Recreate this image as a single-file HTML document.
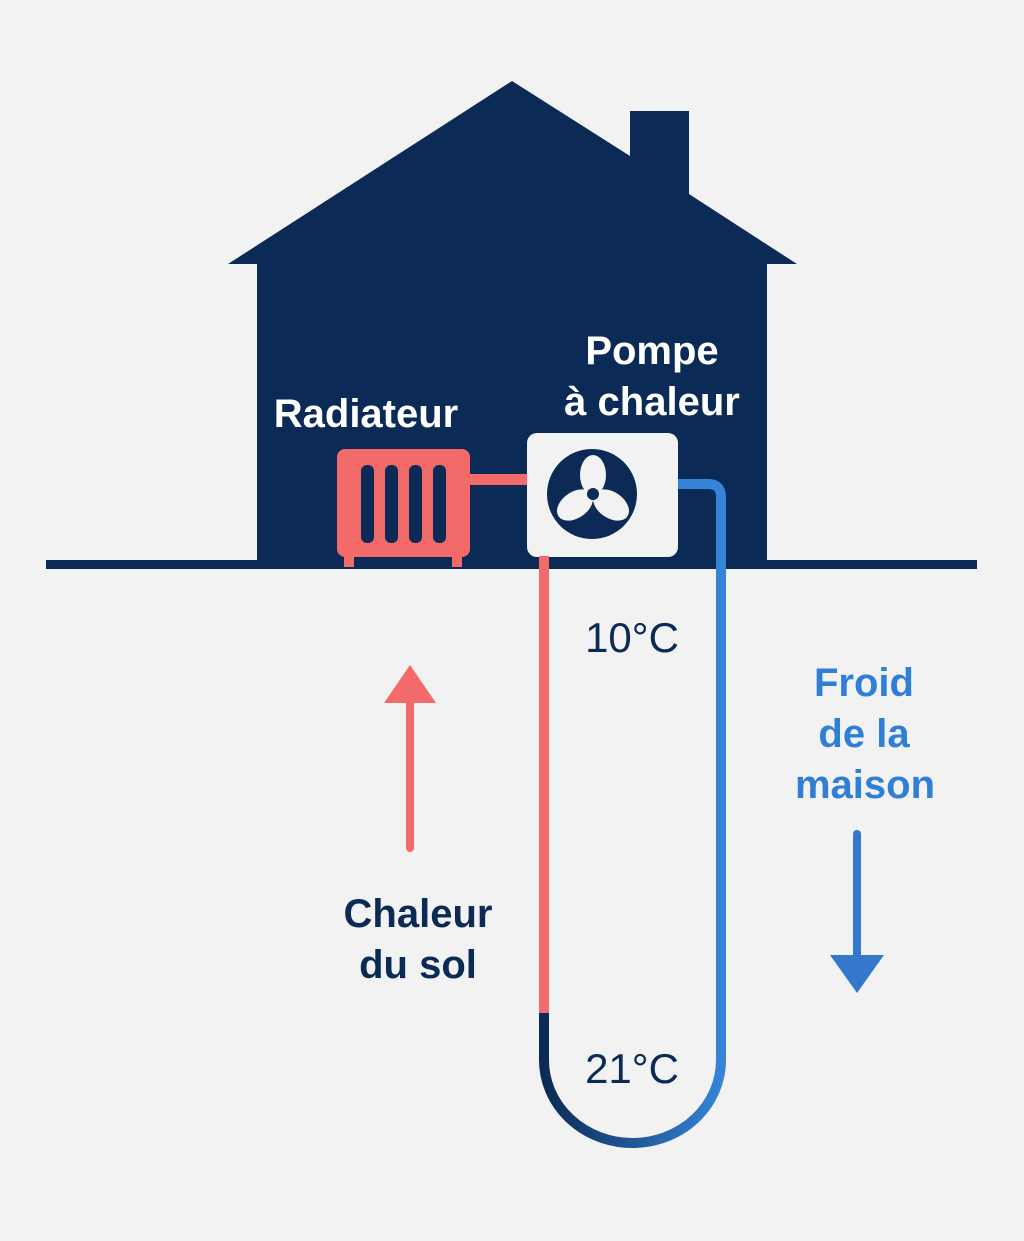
<!DOCTYPE html>
<html><head><style>body{margin:0;background:#f2f2f2}svg{display:block}</style></head><body>
<svg width="1024" height="1241" viewBox="0 0 1024 1241" xmlns="http://www.w3.org/2000/svg" font-family="Liberation Sans, DejaVu Sans, sans-serif">
<defs><linearGradient id="g" x1="0" x2="1"><stop offset="0" stop-color="#0b2a55"/><stop offset="1" stop-color="#3584d8"/></linearGradient></defs>
<rect width="1024" height="1241" fill="#f2f2f2"/>
<polygon points="512,81 630,156 630,111 689,111 689,194 797,264 767,264 767,562 257,562 257,264 228,264" fill="#0b2a55"/>
<rect x="46" y="560" width="931" height="9" fill="#0b2a55"/>
<rect x="337" y="449" width="133" height="108" rx="8" fill="#f26a6a"/>
<rect x="344" y="550" width="10" height="17" fill="#f26a6a"/><rect x="452" y="550" width="10" height="17" fill="#f26a6a"/>
<rect x="361" y="465" width="13" height="78" rx="6" fill="#0b2a55"/><rect x="385" y="465" width="13" height="78" rx="6" fill="#0b2a55"/>
<rect x="409" y="465" width="13" height="78" rx="6" fill="#0b2a55"/><rect x="433" y="465" width="13" height="78" rx="6" fill="#0b2a55"/>
<rect x="470" y="474" width="58" height="11" fill="#f26a6a"/>
<rect x="527" y="433" width="151" height="124" rx="10" fill="#f2f2f2"/>
<circle cx="592" cy="494" r="45" fill="#0b2a55"/>
<g fill="#f2f2f2"><ellipse cx="593" cy="475" rx="13" ry="20"/><ellipse cx="575" cy="505" rx="20" ry="13" transform="rotate(-35 575 505)"/><ellipse cx="611" cy="505" rx="20" ry="13" transform="rotate(35 611 505)"/></g>
<circle cx="593" cy="494" r="6" fill="#0b2a55"/>
<path d="M678 484 H708 Q721 484 721 497 V1060" fill="none" stroke="#3584d8" stroke-width="10"/>
<line x1="544" y1="556" x2="544" y2="1015" stroke="#f26a6a" stroke-width="10"/>
<line x1="544" y1="1013" x2="544" y2="1062" stroke="#0b2a55" stroke-width="10"/>
<path d="M544 1060 A88.5 83 0 0 0 721 1060" fill="none" stroke="url(#g)" stroke-width="10"/>
<g font-weight="bold" font-size="40" fill="#fff" text-anchor="middle">
<text x="366" y="427">Radiateur</text><text x="652" y="364">Pompe</text><text x="652" y="415">à chaleur</text></g>
<g font-size="42" fill="#0b2a55" text-anchor="middle"><text x="632" y="652">10°C</text><text x="632" y="1083">21°C</text></g>
<g font-size="40" font-weight="bold" fill="#2f7fd6" text-anchor="middle"><text x="864" y="696">Froid</text><text x="864" y="747">de la</text><text x="865" y="798">maison</text></g>
<g font-size="40" font-weight="bold" fill="#0b2a55" text-anchor="middle"><text x="418" y="927">Chaleur</text><text x="418" y="978">du sol</text></g>
<line x1="410" y1="700" x2="410" y2="848" stroke="#f26a6a" stroke-width="8" stroke-linecap="round"/>
<polygon points="384,703 436,703 410,665" fill="#f26a6a"/>
<line x1="857" y1="834" x2="857" y2="958" stroke="#3478cc" stroke-width="8" stroke-linecap="round"/>
<polygon points="830,955 884,955 857,993" fill="#3478cc"/>
</svg></body></html>
